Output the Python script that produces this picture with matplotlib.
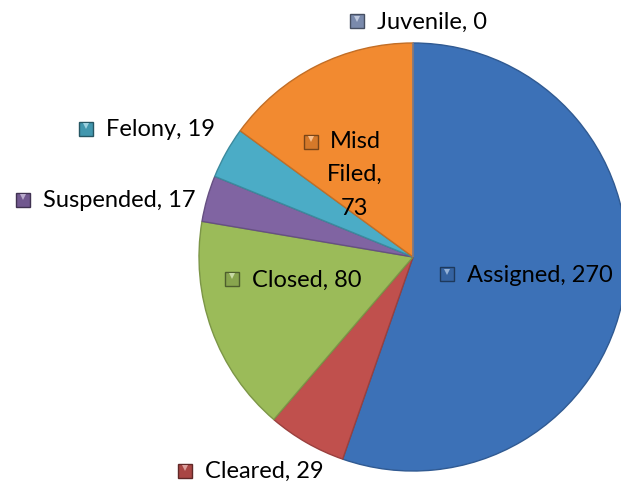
import numpy as np
import matplotlib
matplotlib.use("Agg")
from matplotlib import pyplot as plt
from matplotlib import colors as mcolors

# data
cats = ['Assigned', 'Cleared', 'Closed', 'Suspended', 'Felony', 'Misd\nFiled', 'Juvenile']
vals = [270, 29, 80, 17, 19, 73, 0]
cols = ['#3C71B7', '#C0504D', '#9BBB59', '#8064A2', '#4BACC6', '#F28A30', '#8B9DC3']
# label distance from centre (fraction of radius) and angle tweak (deg)
ldist = [0.60, 1.22, 0.51, 1.40, 1.32, 0.47, 1.10]
ltweak = [1.5, -4.8, -7.8, 5.0, 2.4, 8.3, -4.6]

W, H = 621, 487
cx, cy, R = 413, 487 - 257, 214

plt.rcParams['font.family'] = ['Lato', 'DejaVu Sans']

fig = plt.figure(figsize=(W / 100, H / 100), dpi=100)
ax = fig.add_axes([0, 0, 1, 1])


def shade(c, f):
    r, g, b = mcolors.to_rgb(c)
    if f < 1:
        return (r * f, g * f, b * f)
    return (r + (1 - r) * (f - 1), g + (1 - g) * (f - 1), b + (1 - b) * (f - 1))


wedges, _ = ax.pie(vals, colors=cols, startangle=90, counterclock=False,
                   center=(cx, cy), radius=R, frame=True,
                   wedgeprops=dict(linewidth=1.0))
for w, c in zip(wedges, cols):
    w.set_edgecolor(shade(c, 0.8))
ax.set_xlim(0, W)
ax.set_ylim(0, H)
ax.set_aspect('equal')
ax.axis('off')

fig.canvas.draw()
rend = fig.canvas.get_renderer()
total = float(sum(vals))
start = 90.0
for i, (lab, v) in enumerate(zip(cats, vals)):
    span = 360.0 * v / total
    mid = np.radians(start - span / 2 + ltweak[i])
    start -= span
    x = cx + ldist[i] * R * np.cos(mid)
    y = cy + ldist[i] * R * np.sin(mid)
    if '\n' in lab:
        s = lab + ',\n' + str(v)
    else:
        s = lab + ', ' + str(v)
    t = ax.text(x, y, s, ha='center', va='center', fontsize=17,
                color='black', linespacing=1.75)
    bb = t.get_window_extent(rend).transformed(ax.transData.inverted())
    if '\n' in s:
        my = bb.y1 - 11
        mx = bb.x0 - 16
    else:
        my = (bb.y0 + bb.y1) / 2 + 1
        mx = bb.x0 - 20
    ax.plot(mx, my, marker='s', markersize=10, color=shade(cols[i], 0.88),
            markeredgecolor=shade(cols[i], 0.5), markeredgewidth=1.0)
    # light bevel highlight on top of the key
    ax.plot(mx, my + 2.5, marker='v', markersize=5, color=shade(cols[i], 1.45),
            markeredgewidth=0)

fig.savefig('out.png', dpi=100)
